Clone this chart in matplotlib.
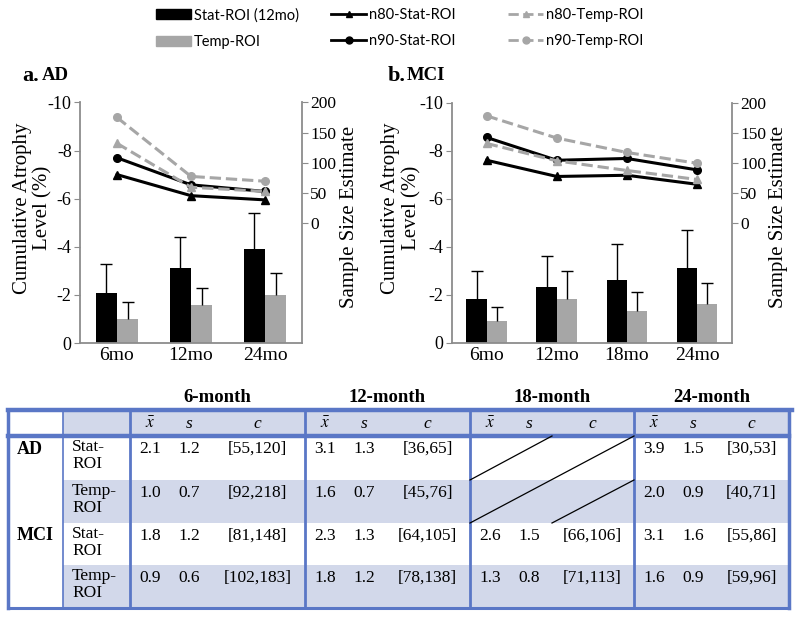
import numpy as np
import matplotlib
matplotlib.use('Agg')
import matplotlib.pyplot as plt
from matplotlib.patches import Rectangle, Patch
from matplotlib.lines import Line2D

plt.rcParams['font.family'] = ['Liberation Serif', 'DejaVu Serif']
plt.rcParams['mathtext.fontset'] = 'stix'

# ---- data ----
month_ticks = ['6mo', '12mo', '18mo', '24mo']
month_heads = ['6-month', '12-month', '18-month', '24-month']

# mean / sd of cumulative atrophy (%), None = not measured
ad_stat_mean = [2.1, 3.1, None, 3.9]
ad_stat_sd = [1.2, 1.3, None, 1.5]
ad_stat_ci = ['[55,120]', '[36,65]', None, '[30,53]']
ad_temp_mean = [1.0, 1.6, None, 2.0]
ad_temp_sd = [0.7, 0.7, None, 0.9]
ad_temp_ci = ['[92,218]', '[45,76]', None, '[40,71]']

mci_stat_mean = [1.8, 2.3, 2.6, 3.1]
mci_stat_sd = [1.2, 1.3, 1.5, 1.6]
mci_stat_ci = ['[81,148]', '[64,105]', '[66,106]', '[55,86]']
mci_temp_mean = [0.9, 1.8, 1.3, 1.6]
mci_temp_sd = [0.6, 1.2, 0.8, 0.9]
mci_temp_ci = ['[102,183]', '[78,138]', '[71,113]', '[59,96]']

# sample size estimates (right axis)
ad_n80_stat = [80, 45, None, 38]
ad_n90_stat = [108, 63, None, 52]
ad_n80_temp = [132, 59, None, 52]
ad_n90_temp = [175, 77, None, 69]
mci_n80_stat = [104, 77, 79, 64]
mci_n90_stat = [142, 104, 107, 88]
mci_n80_temp = [132, 103, 87, 72]
mci_n90_temp = [178, 141, 117, 99]

GRAY = '#a6a6a6'
AXC = '#8c8c8c'
BLUE = '#5a77c6'
FILL = '#d2d8ea'

fig = plt.figure(figsize=(8, 6.17), dpi=100)


def keep(vals, ref):
    return [v for v, r in zip(vals, ref) if r is not None]


def panel(rect, ref, sm, ss, tm, ts, lines, ylab_x, yr_x):
    ax = fig.add_axes(rect, zorder=2)
    ticks = keep(month_ticks, ref)
    x = np.arange(len(ticks))
    w = 0.29
    sm, ss, tm, ts = [np.array(keep(v, ref)) for v in (sm, ss, tm, ts)]
    ax.bar(x - w / 2, -sm, w, color='black', zorder=2)
    ax.bar(x + w / 2, -tm, w, color=GRAY, zorder=2)
    for xs, m, s in ((x - w / 2, sm, ss), (x + w / 2, tm, ts)):
        ax.errorbar(xs, -m, yerr=[s, np.zeros(len(s))], fmt='none',
                    ecolor='black', elinewidth=1, capsize=0, zorder=3)
        ax.plot(xs, -m - s, ls='none', marker='_', ms=8, mew=1,
                color='black', zorder=3)
    ax.set_ylim(0, -10)
    ax.set_xlim(-0.5, len(ticks) - 0.5)
    ax.set_yticks([0, -2, -4, -6, -8, -10])
    ax.set_yticklabels(['0', '-2', '-4', '-6', '-8', '-10'])
    ax.set_xticks(x)
    ax.set_xticklabels(ticks)
    ax.tick_params(axis='y', labelsize=13, color=AXC, length=4, pad=2)
    ax.tick_params(axis='x', labelsize=14, length=0, pad=3)
    for sp in ('top', 'right'):
        ax.spines[sp].set_visible(False)
    for sp in ('left', 'bottom'):
        ax.spines[sp].set_color(AXC)
        ax.spines[sp].set_linewidth(1.3)
    ax.set_ylabel('Cumulative Atrophy\nLevel (%)', fontsize=15, linespacing=1.1)
    ax.yaxis.set_label_coords(ylab_x, 0.56)
    ax.yaxis.label.set_va('center')

    ax2 = ax.twinx()
    n80s, n90s, n80t, n90t = [keep(v, ref) for v in lines]
    ax2.plot(x, n80s, color='black', lw=2.2, marker='^', ms=6)
    ax2.plot(x, n90s, color='black', lw=2.2, marker='o', ms=5.5)
    ax2.plot(x, n80t, color=GRAY, lw=2.2, ls='--', marker='^', ms=6)
    ax2.plot(x, n90t, color=GRAY, lw=2.2, ls='--', marker='o', ms=5.5)
    ax2.set_ylim(-200, 200)
    ax2.set_yticks([0, 50, 100, 150, 200])
    ax2.tick_params(axis='y', labelsize=12.5, color=AXC, length=4, pad=2)
    for sp in ('top', 'left', 'bottom'):
        ax2.spines[sp].set_visible(False)
    ax2.spines['right'].set_color(AXC)
    ax2.spines['right'].set_linewidth(1.3)
    ax2.set_ylabel('Sample Size Estimate', fontsize=15)
    ax2.yaxis.set_label_coords(yr_x, 0.525)
    ax2.yaxis.label.set_va('center')
    return ax


panel([0.1, 0.444, 0.2775, 0.39], ad_stat_mean, ad_stat_mean, ad_stat_sd,
      ad_temp_mean, ad_temp_sd,
      (ad_n80_stat, ad_n90_stat, ad_n80_temp, ad_n90_temp), -0.212, 1.215)
panel([0.5646, 0.4446, 0.3504, 0.389], mci_stat_mean, mci_stat_mean,
      mci_stat_sd, mci_temp_mean, mci_temp_sd,
      (mci_n80_stat, mci_n90_stat, mci_n80_temp, mci_n90_temp), -0.18, 1.165)

# panel titles
fig.text(22 / 800, 1 - 76 / 617, 'a.', fontsize=16, fontweight='bold', va='center')
fig.text(42 / 800, 1 - 76 / 617, 'AD', fontsize=13.5, fontweight='bold', va='center')
fig.text(388 / 800, 1 - 76 / 617, 'b.', fontsize=16, fontweight='bold', va='center')
fig.text(407 / 800, 1 - 76 / 617, 'MCI', fontsize=13.5, fontweight='bold', va='center')

# legends (three columns)
lfont = {'family': ['Lato', 'DejaVu Sans'], 'size': 10.5}
groups = [
    ([Patch(color='black'), Patch(color=GRAY)], ['Stat-ROI (12mo)', 'Temp-ROI'], 156),
    ([Line2D([], [], color='black', lw=2, marker='^', ms=5),
      Line2D([], [], color='black', lw=2, marker='o', ms=5)],
     ['n80-Stat-ROI', 'n90-Stat-ROI'], 331),
    ([Line2D([], [], color=GRAY, lw=2, ls='--', marker='^', ms=5),
      Line2D([], [], color=GRAY, lw=2, ls='--', marker='o', ms=5)],
     ['n80-Temp-ROI', 'n90-Temp-ROI'], 508),
]
for h, l, px in groups:
    fig.legend(h, l, loc='upper left', bbox_to_anchor=(px / 800, 1 - 8 / 617),
               frameon=False, prop=lfont, borderpad=0, borderaxespad=0,
               handlelength=2.4, handletextpad=0.2, labelspacing=0.85)

# ---- table ----
tx = fig.add_axes([0, 0, 1, 1], zorder=0)
tx.set_xlim(0, 800)
tx.set_ylim(617, 0)
tx.axis('off')

col_x = [8, 63, 130, 305, 470, 634, 789]
row_y = [410, 436, 480, 523, 565, 608]
right = col_x[-1]

tx.add_patch(Rectangle((col_x[1], row_y[0]), right - col_x[1], row_y[1] - row_y[0],
                       fc=FILL, ec='none'))
for i in (1, 3):
    tx.add_patch(Rectangle((col_x[1], row_y[i + 1]), right - col_x[1],
                           row_y[i + 2] - row_y[i + 1], fc=FILL, ec='none'))

# frame and rules
tx.plot([col_x[0], right + 3], [row_y[0], row_y[0]], color=BLUE, lw=3.2)
tx.plot([col_x[0], right], [row_y[1], row_y[1]], color=BLUE, lw=3.2)
tx.plot([col_x[0], right], [row_y[-1], row_y[-1]], color=BLUE, lw=2.2)
tx.plot([col_x[0], col_x[0]], [row_y[0], row_y[-1]], color=BLUE, lw=2.5)
tx.plot([right, right], [row_y[0], row_y[-1]], color=BLUE, lw=2.5)
tx.plot([col_x[1], col_x[1]], [row_y[0], row_y[-1]], color=BLUE, lw=1.2)
for cx in col_x[2:-1]:
    tx.plot([cx, cx], [row_y[0], row_y[-1]], color=BLUE, lw=2)

tfs = 12.5
blocks = list(zip(col_x[2:-1], col_x[3:]))
for (b0, b1), head in zip(blocks, month_heads):
    tx.text((b0 + b1) / 2, 398, head, ha='center', va='center', fontsize=13.5,
            fontweight='bold')
    hy = (row_y[0] + row_y[1]) / 2 + 1
    tx.text(b0 + 20, hy, r'$\bar{x}$', ha='center', va='center', fontsize=tfs)
    tx.text(b0 + 59, hy, 's', ha='center', va='center', fontsize=tfs, style='italic')
    tx.text((b0 + 80 + b1) / 2, hy, 'c', ha='center', va='center', fontsize=tfs,
            style='italic')

body = [
    ('AD', 'Stat-\nROI', ad_stat_mean, ad_stat_sd, ad_stat_ci),
    (None, 'Temp-\nROI', ad_temp_mean, ad_temp_sd, ad_temp_ci),
    ('MCI', 'Stat-\nROI', mci_stat_mean, mci_stat_sd, mci_stat_ci),
    (None, 'Temp-\nROI', mci_temp_mean, mci_temp_sd, mci_temp_ci),
]
for i, (grp, roi, m, s, c) in enumerate(body):
    y0 = row_y[i + 1]
    ty = y0 + 13
    if grp:
        tx.text(17, ty, grp, ha='left', va='center', fontsize=13, fontweight='bold')
    tx.text(72, y0 + 3, roi, ha='left', va='top', fontsize=12.5, linespacing=1.1)
    for (b0, b1), mv, sv, cv in zip(blocks, m, s, c):
        if mv is None:
            continue
        tx.text(b0 + 20, ty, f'{mv:.1f}', ha='center', va='center', fontsize=tfs)
        tx.text(b0 + 59, ty, f'{sv:.1f}', ha='center', va='center', fontsize=tfs)
        tx.text((b0 + 80 + b1) / 2, ty, cv, ha='center', va='center', fontsize=tfs)

# diagonal strike-through for missing AD 18-month cells
b0, b1 = blocks[2]
yt, ym, yb = row_y[1], row_y[2], row_y[3]
xm = (b0 + b1) / 2
for xa, ya, xb, yb2 in ((b0, ym, xm, yt), (b0, yb, b1, yt), (xm, yb, b1, ym)):
    tx.plot([xa, xb], [ya, yb2], color='black', lw=0.9)

fig.savefig('out.png', dpi=100)
